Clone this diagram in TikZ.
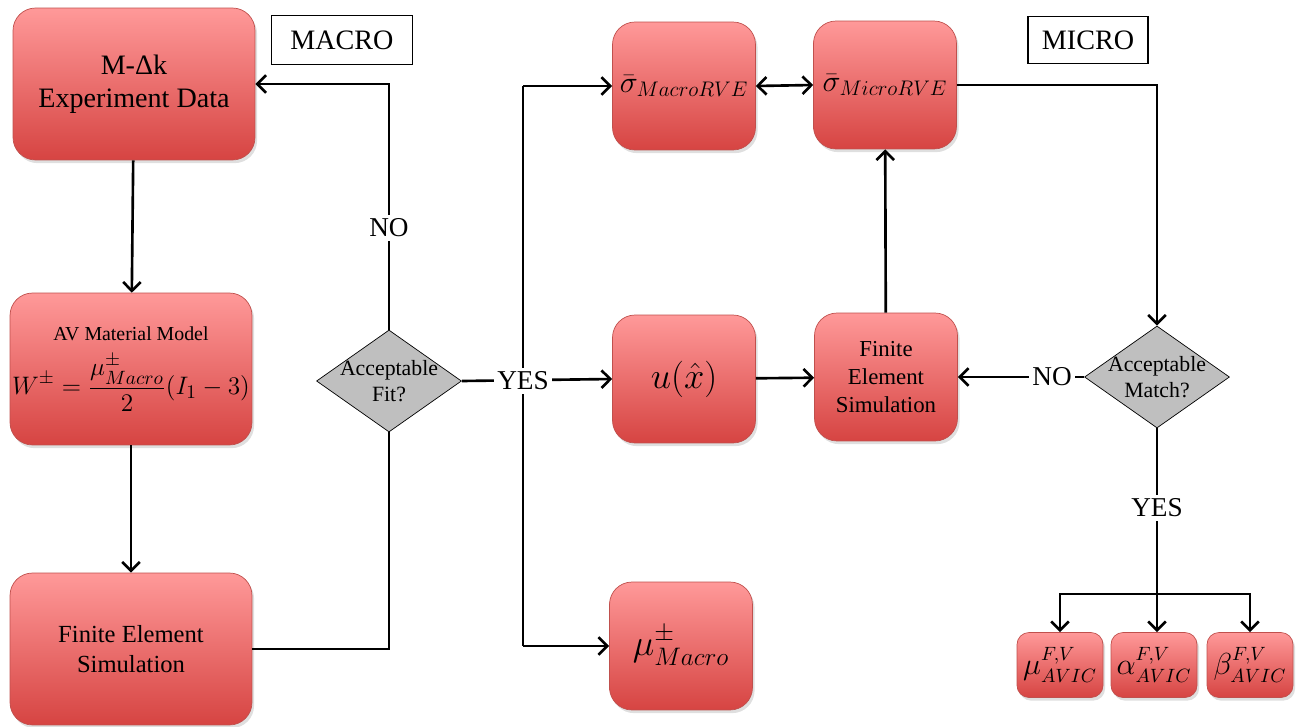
\documentclass[tikz,border=0pt]{standalone}
\usepackage{fontspec}
\setmainfont{Liberation Serif}
\usepackage{amsmath}
\usetikzlibrary{positioning, shapes.geometric, arrows.meta, shadows}
\definecolor{boxtop}{RGB}{255,153,153}
\definecolor{boxbottom}{RGB}{214,68,66}
\definecolor{boxedge}{RGB}{192,80,77}
\definecolor{decgray}{RGB}{191,191,191}

\begin{document}
\begin{tikzpicture}[x=0.02cm, y=-0.02cm,
  redbox/.style={rectangle, rounded corners=4.5mm, draw=boxedge,
    top color=boxtop, bottom color=boxbottom, align=center,
    drop shadow={opacity=0.25, shadow xshift=1.2pt, shadow yshift=-1.8pt}},
  bigbox/.style={redbox, minimum width=4.84cm, minimum height=3.04cm},
  midbox/.style={redbox, minimum width=2.86cm, minimum height=2.56cm},
  smallbox/.style={redbox, rounded corners=2.4mm, minimum width=1.72cm,
    minimum height=1.3cm, inner sep=0pt},
  decision/.style={diamond, draw, fill=decgray, aspect=1.42,
    minimum width=2.9cm, minimum height=2.04cm, inner sep=-3pt,
    align=center, font=\fontsize{12.4}{15}\selectfont},
  tag/.style={rectangle, draw, thick, minimum width=2.82cm,
    minimum height=0.98cm, font=\fontsize{16}{18}\selectfont},
  flow/.style={-{Straight Barb[length=5pt, width=10pt]}, line width=1.5pt},
  link/.style={line width=1.5pt},
  answer/.style={fill=white, inner sep=2pt, font=\fontsize{15.5}{17}\selectfont}
]
  \useasboundingbox (0,0) rectangle (1309,727);

  % macro side
  \node[bigbox, font=\fontsize{16}{19}\selectfont] (expdata) at (134,84)
    {M-Δk\\Experiment Data};
  \node[bigbox, inner sep=1pt, font=\fontsize{15}{18}\selectfont] (avmodel) at (131,369)
    {{\fontsize{11.3}{13}\selectfont AV Material Model}\\[7pt]
     $\displaystyle W^{\pm}=\frac{\mu^{\pm}_{Macro}}{2}(I_1-3)$};
  \node[bigbox, font=\fontsize{14}{17}\selectfont] (femacro) at (131,649)
    {Finite Element\\Simulation};
  \node[tag] (macrotag) at (342,40) {MACRO};
  \node[decision] (fit) at (389,381) {Acceptable\\Fit?};

  % micro side
  \node[midbox, font=\fontsize{17}{20}\selectfont] (sigmamacro) at (684,86)
    {$\bar{\sigma}_{MacroRVE}$};
  \node[midbox, font=\fontsize{17}{20}\selectfont] (sigmamicro) at (885,85)
    {$\bar{\sigma}_{MicroRVE}$};
  \node[tag, minimum width=2.4cm, minimum height=0.94cm] (microtag) at (1088,40) {MICRO};
  \node[midbox, font=\fontsize{22}{24}\selectfont] (ufield) at (684,379)
    {$u(\hat{x})$};
  \node[midbox, font=\fontsize{13}{16}\selectfont] (femicro) at (886,377)
    {Finite\\Element\\Simulation};
  \node[decision] (match) at (1157,377) {Acceptable\\Match?};
  \node[midbox, font=\fontsize{20}{22}\selectfont] (mumacro) at (681,646)
    {$\mu^{\pm}_{Macro}$};

  % identified parameters
  \node[smallbox, font=\fontsize{16}{19}\selectfont] (muavic) at (1060,665)
    {$\mu^{F,V}_{AVIC}$};
  \node[smallbox, font=\fontsize{16}{19}\selectfont] (alphaavic) at (1154,665)
    {$\alpha^{F,V}_{AVIC}$};
  \node[smallbox, font=\fontsize{16}{19}\selectfont] (betaavic) at (1250,665)
    {$\beta^{F,V}_{AVIC}$};

  \coordinate (split) at (523,381);
  \coordinate (branch) at (1157,594);

  % connectors
  \draw[flow] (expdata) -- (avmodel);
  \draw[flow] (avmodel) -- (femacro);
  \draw[link] (femacro.east) -| (fit.south);
  \draw[flow] (fit.north) |- (expdata.east);
  \draw[flow] (fit.east) -- (ufield.west);
  \draw[link] (split |- sigmamacro.west) -- (split |- mumacro.west);
  \draw[flow] (split |- sigmamacro.west) -- (sigmamacro.west);
  \draw[flow] (split |- mumacro.west) -- (mumacro.west);
  \draw[{Straight Barb[length=5pt, width=10pt]}-{Straight Barb[length=5pt, width=10pt]}, line width=1.5pt]
    (sigmamacro.east) -- (sigmamicro.west);
  \draw[flow] (ufield) -- (femicro);
  \draw[flow] (femicro) -- (sigmamicro);
  \draw[flow] (sigmamicro.east) -| (match.north);
  \draw[flow] (match.west) -- (femicro.east);
  \draw[link] (match.south) -- (branch);
  \draw[flow] (branch) -| (muavic.north);
  \draw[flow] (branch) -- (branch |- alphaavic.north);
  \draw[flow] (branch) -| (betaavic.north);

  % answers
  \node[answer] (nofit) at (389,228) {NO};
  \node[answer] (yesfit) at (split) {YES};
  \node[answer] (nomatch) at (1052,377) {NO};
  \node[answer] (yesmatch) at (1157,508) {YES};
\end{tikzpicture}
\end{document}
